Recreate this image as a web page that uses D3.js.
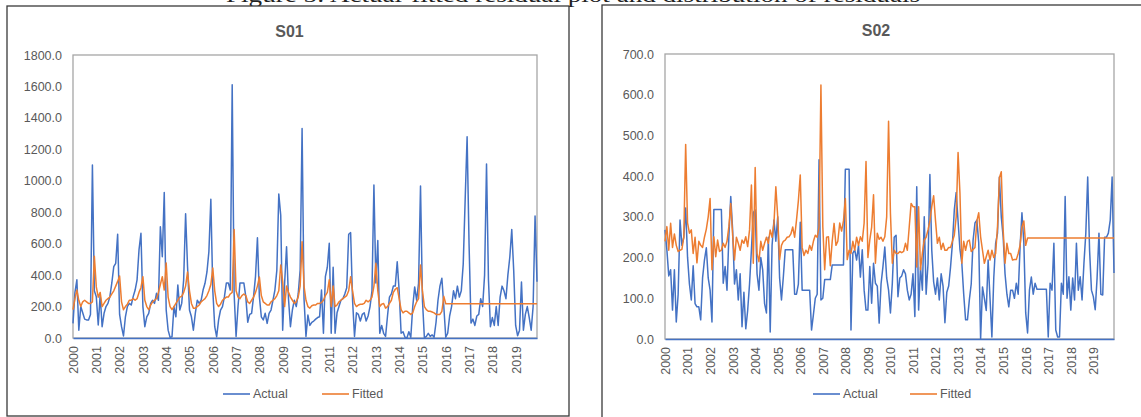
<!DOCTYPE html>
<html>
<head>
<meta charset="utf-8">
<script src="https://cdn.jsdelivr.net/npm/d3@7"></script>
<style>
  html, body { margin: 0; padding: 0; background: #fff; }
  svg { display: block; }
  text { font-family: "Liberation Sans", Arial, sans-serif; }
</style>
</head>
<body>
<svg id="chart" width="1141" height="417"></svg>
<script>
// ---------------- DATA ----------------
const yearLabels = ["2000","2001","2002","2003","2004","2005","2006","2007","2008","2009",
                    "2010","2011","2012","2013","2014","2015","2016","2017","2018","2019"];
const seriesNames = ["Actual", "Fitted"];
const panelTitles = ["S01", "S02"];
const s01Ticks = [0, 200, 400, 600, 800, 1000, 1200, 1400, 1600, 1800];
const s02Ticks = [0, 100, 200, 300, 400, 500, 600, 700];
const captionText = "Figure 5: Actual-fitted residual plot and distribution of residuals";

// monthly values, Jan 2000 .. Dec 2019 (12 per row)
const s01Actual = [
  93, 290, 370, 50, 200, 160, 120, 115, 115, 150, 1100, 300,
  263, 83, 273, 72, 157, 200, 220, 263, 350, 454, 475, 660,
  150, 72, 13, 135, 200, 220, 210, 263, 305, 370, 560, 666,
  200, 72, 135, 157, 220, 240, 220, 284, 240, 708, 517, 925,
  178, 50, 4, 8, 200, 135, 337, 178, 220, 370, 790, 454,
  178, 135, 50, 157, 240, 220, 240, 305, 348, 420, 550, 882,
  305, 72, 8, 115, 178, 200, 263, 350, 350, 305, 1610, 280,
  10, 200, 350, 350, 350, 263, 100, 150, 157, 263, 390, 638,
  263, 135, 115, 157, 93, 157, 178, 240, 305, 432, 916, 780,
  50, 348, 580, 250, 72, 178, 240, 200, 280, 432, 1333, 250,
  10, 146, 80, 100, 108, 120, 130, 135, 305, 30, 390, 450,
  602, 30, 450, 30, 160, 200, 240, 250, 280, 320, 660, 670,
  240, 10, 160, 150, 108, 150, 160, 108, 140, 200, 300, 973,
  350, 620, 30, 80, 30, 10, 140, 260, 280, 330, 330, 485,
  300, 30, 40, 5, 0, 40, 5, 200, 325, 240, 350, 967,
  240, 0, 10, 30, 10, 20, 5, 100, 240, 330, 380, 200,
  5, 30, 140, 200, 300, 250, 330, 260, 300, 470, 880, 1280,
  600, 95, 120, 80, 140, 150, 250, 200, 400, 1107, 370, 72,
  130, 80, 200, 80, 260, 330, 300, 250, 400, 515, 690, 430,
  80, 15, 50, 356, 50, 150, 200, 130, 50, 200, 776, 358
];
const s01Fitted = [
  180, 250, 305, 240, 200, 230, 240, 230, 220, 220, 230, 520,
  325, 260, 290, 200, 220, 240, 250, 260, 280, 300, 330, 360,
  394, 230, 180, 200, 215, 240, 240, 250, 240, 250, 290, 320,
  390, 240, 200, 180, 210, 230, 240, 250, 290, 340, 390, 305,
  477, 260, 200, 180, 200, 220, 240, 260, 265, 290, 330, 420,
  300, 220, 190, 190, 200, 210, 230, 240, 250, 270, 300, 340,
  445, 300, 220, 200, 215, 240, 250, 260, 260, 280, 290, 690,
  300, 260, 250, 270, 280, 270, 230, 220, 240, 260, 290, 330,
  388, 270, 230, 220, 210, 210, 230, 240, 250, 270, 300, 464,
  360, 200, 330, 290, 260, 240, 220, 230, 260, 330, 612, 330,
  240, 200, 190, 205, 210, 210, 220, 220, 225, 240, 270, 290,
  370, 200, 330, 200, 210, 230, 240, 250, 260, 270, 300, 390,
  300, 220, 200, 210, 215, 215, 220, 240, 230, 240, 260, 330,
  475, 300, 200, 215, 220, 190, 200, 220, 240, 290, 310, 320,
  250, 180, 160, 170, 170, 160, 150, 160, 200, 230, 250, 464,
  300, 200, 180, 170, 170, 165, 160, 150, 150, 150, 170, 265,
  218, 218, 218, 218, 218, 218, 218, 218, 218, 218, 218, 218,
  218, 218, 218, 218, 218, 218, 218, 218, 218, 218, 218, 218,
  218, 218, 218, 218, 218, 218, 218, 218, 218, 218, 218, 218,
  218, 218, 218, 218, 218, 218, 218, 218, 218, 218, 218, 218
];
const s02Actual = [
  268, 219, 155, 170, 71, 170, 42, 110, 292, 230, 250, 322,
  201, 135, 96, 180, 87, 79, 79, 47, 150, 194, 224, 150,
  120, 42, 318, 318, 318, 318, 318, 137, 178, 120, 251, 350,
  268, 135, 170, 96, 160, 30, 115, 25, 70, 135, 219, 310,
  317, 160, 120, 200, 170, 87, 64, 250, 17, 230, 292, 240,
  300, 150, 96, 153, 219, 219, 219, 219, 219, 110, 110, 135,
  287, 120, 120, 120, 120, 120, 22, 60, 100, 110, 440, 96,
  100, 146, 146, 146, 146, 182, 182, 182, 182, 182, 182, 182,
  417, 417, 417, 22, 211, 219, 194, 230, 152, 219, 120, 71,
  71, 178, 88, 186, 137, 130, 39, 135, 177, 226, 150, 120,
  64, 137, 250, 255, 104, 150, 155, 170, 160, 120, 96, 110,
  160, 55, 374, 71, 177, 120, 300, 110, 185, 404, 218, 140,
  110, 150, 96, 160, 130, 40, 115, 130, 177, 235, 317, 360,
  290, 220, 186, 110, 47, 47, 96, 135, 243, 285, 292, 236,
  0, 128, 100, 70, 194, 100, 5, 150, 235, 260, 398, 300,
  251, 160, 110, 79, 120, 120, 100, 137, 110, 226, 310, 237,
  64, 15, 120, 152, 110, 137, 122, 122, 122, 122, 122, 122,
  5, 137, 120, 235, 22, 5, 5, 137, 110, 350, 100, 153,
  71, 150, 96, 235, 120, 153, 96, 186, 260, 398, 218, 120,
  104, 72, 150, 260, 110, 108, 250, 250, 260, 292, 398, 162
];
const s02Fitted = [
  240, 276, 218, 284, 225, 258, 230, 215, 218, 220, 250, 478,
  285, 260, 268, 210, 250, 187, 240, 230, 225, 250, 270, 300,
  345, 170, 251, 202, 243, 215, 218, 235, 225, 240, 276, 333,
  255, 194, 250, 235, 218, 243, 235, 251, 227, 268, 378, 186,
  421, 210, 190, 240, 218, 235, 250, 235, 268, 250, 284, 374,
  300, 195, 230, 240, 243, 250, 251, 258, 275, 250, 292, 340,
  403, 225, 205, 218, 210, 230, 218, 240, 255, 250, 275, 624,
  276, 170, 250, 251, 180, 240, 284, 230, 240, 285, 265, 290,
  345, 195, 218, 210, 240, 218, 250, 230, 251, 240, 285, 436,
  200, 243, 275, 354, 186, 260, 245, 250, 240, 251, 300, 535,
  309, 186, 218, 210, 210, 215, 212, 215, 235, 218, 275, 333,
  325, 325, 177, 325, 170, 211, 243, 250, 268, 290, 325, 352,
  290, 235, 250, 220, 235, 218, 218, 225, 225, 240, 255, 300,
  458, 358, 186, 240, 218, 240, 243, 215, 220, 225, 290, 310,
  251, 218, 186, 202, 218, 194, 218, 200, 210, 276, 396, 411,
  268, 186, 235, 210, 210, 194, 195, 195, 210, 230, 275, 290,
  230, 248, 248, 248, 248, 248, 248, 248, 248, 248, 248, 248,
  248, 248, 248, 248, 248, 248, 248, 248, 248, 248, 248, 248,
  248, 248, 248, 248, 248, 248, 248, 248, 248, 248, 248, 248,
  248, 248, 248, 248, 248, 248, 248, 248, 248, 248, 248, 248
];

// ---------------- DRAW ----------------
const BLUE = "#4472C4", ORANGE = "#ED7D31", TXT = "#595959";
const svg = d3.select("#chart");
svg.append("rect").attr("width", 1141).attr("height", 417).attr("fill", "#fff");

// figure caption, clipped by the top edge as in the source scan
svg.append("text")
  .attr("x", 226).attr("y", 2)
  .attr("textLength", 694).attr("lengthAdjust", "spacingAndGlyphs")
  .style("font-family", "'Liberation Serif', 'Times New Roman', serif")
  .style("font-size", "20px").attr("fill", "#222")
  .text(captionText);

const panels = [
  { title: panelTitles[0], actual: s01Actual, fitted: s01Fitted, ticks: s01Ticks, max: 1800,
    frame: [7, 6, 562, 410], plot: [73, 55, 537, 338], titleX: 289.5, titleY: 37,
    legend: [223, 322] },
  { title: panelTitles[1], actual: s02Actual, fitted: s02Fitted, ticks: s02Ticks, max: 700,
    frame: [602, 5, 600, 500], plot: [665, 54, 1114, 339], titleX: 876, titleY: 36,
    legend: [813, 910] }
];

panels.forEach(p => {
  const g = svg.append("g");
  const [fx, fy, fw, fh] = p.frame;
  g.append("rect").attr("x", fx).attr("y", fy).attr("width", fw).attr("height", fh)
    .attr("fill", "#fff").attr("stroke", "#3a3a3a").attr("stroke-width", 1.3);

  const [x0, y0, x1, y1] = p.plot;
  const x = d3.scaleLinear().domain([0, p.actual.length - 1]).range([x0, x1]);
  const y = d3.scaleLinear().domain([0, p.max]).range([y1, y0]);

  // plot area border
  g.append("rect").attr("x", x0).attr("y", y0).attr("width", x1 - x0).attr("height", y1 - y0)
    .attr("fill", "none").attr("stroke", "#a6a6a6").attr("stroke-width", 1.3);

  // title
  g.append("text").attr("x", p.titleX).attr("y", p.titleY).attr("text-anchor", "middle")
    .style("font-size", "16px").style("font-weight", "bold").attr("fill", TXT).text(p.title);

  // y axis
  const ya = g.append("g").attr("transform", `translate(${x0},0)`)
    .call(d3.axisLeft(y).tickValues(p.ticks).tickFormat(d3.format(".1f")).tickSize(0).tickPadding(11));
  ya.select(".domain").remove();
  ya.selectAll("text").style("font-size", "12.5px").attr("fill", TXT)
    .style("font-family", "'Liberation Sans', Arial, sans-serif");

  // lines
  const line = d3.line().x((d, i) => x(i)).y(d => y(d));
  g.append("path").datum(p.actual).attr("d", line).attr("fill", "none")
    .attr("stroke", BLUE).attr("stroke-width", 1.5).attr("stroke-linejoin", "round");
  g.append("path").datum(p.fitted).attr("d", line).attr("fill", "none")
    .attr("stroke", ORANGE).attr("stroke-width", 1.5).attr("stroke-linejoin", "round");

  // x axis
  const yearIdx = yearLabels.map((_, i) => i * 12);
  const xa = g.append("g").attr("transform", `translate(0,${y1})`)
    .call(d3.axisBottom(x).tickValues(yearIdx).tickFormat((d, i) => yearLabels[i]).tickSize(0));
  xa.select(".domain").attr("stroke", BLUE).attr("stroke-width", 1.6);
  xa.selectAll("text")
    .attr("transform", "rotate(-90)")
    .attr("x", -8).attr("y", 0).attr("dy", "0.35em")
    .attr("text-anchor", "end")
    .style("font-size", "12.5px").attr("fill", TXT)
    .style("font-family", "'Liberation Sans', Arial, sans-serif");

  // legend
  const ly = 394;
  [[p.legend[0], BLUE, seriesNames[0]], [p.legend[1], ORANGE, seriesNames[1]]].forEach(([lx, c, name]) => {
    g.append("line").attr("x1", lx).attr("x2", lx + 27).attr("y1", ly).attr("y2", ly)
      .attr("stroke", c).attr("stroke-width", 1.6);
    g.append("text").attr("x", lx + 30).attr("y", ly).attr("dy", "0.35em")
      .style("font-size", "12.5px").attr("fill", TXT).text(name);
  });
});
</script>
</body>
</html>
